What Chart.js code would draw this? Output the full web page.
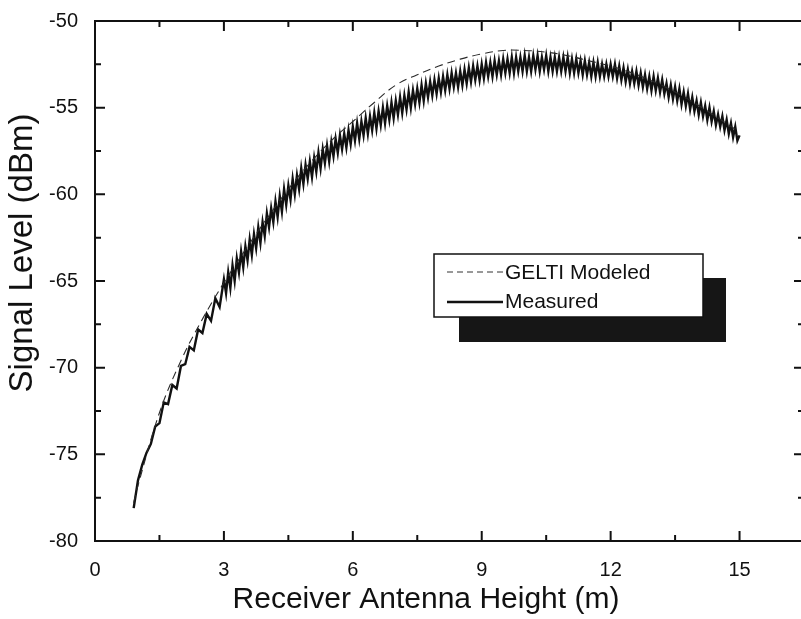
<!DOCTYPE html>
<html>
<head>
<meta charset="utf-8">
<script src="https://cdn.jsdelivr.net/npm/chart.js@4/dist/chart.umd.min.js"></script>
<style>
  html, body { margin: 0; padding: 0; background: #fff; overflow: hidden; }
  #wrap { width: 805px; height: 619px; position: relative; }
</style>
</head>
<body>
<div id="wrap"><canvas id="signal_chart"></canvas></div>
<script>
// measured trace, receiver height (m) vs level (dBm)
var measX = [0.9,1.0,1.1,1.2,1.3,1.4,1.5,1.6,1.7,1.8,1.9,2.0,2.1,2.2,2.3,2.4,2.5,2.6,2.7,2.8,2.9,
  3.0,3.05,3.1,3.15,3.2,3.25,3.3,3.35,3.4,3.45,3.5,3.55,3.6,3.65,3.7,3.75,3.8,3.85,3.9,3.95,
  4.0,4.05,4.1,4.15,4.2,4.25,4.3,4.35,4.4,4.45,4.5,4.55,4.6,4.65,4.7,4.75,4.8,4.85,4.9,4.95,
  5.0,5.05,5.1,5.15,5.2,5.25,5.3,5.35,5.4,5.45,5.5,5.55,5.6,5.65,5.7,5.75,5.8,5.85,5.9,5.95,
  6.0,6.05,6.1,6.15,6.2,6.25,6.3,6.35,6.4,6.45,6.5,6.55,6.6,6.65,6.7,6.75,6.8,6.85,6.9,6.95,
  7.0,7.05,7.1,7.15,7.2,7.25,7.3,7.35,7.4,7.45,7.5,7.55,7.6,7.65,7.7,7.75,7.8,7.85,7.9,7.95,
  8.0,8.05,8.1,8.15,8.2,8.25,8.3,8.35,8.4,8.45,8.5,8.55,8.6,8.65,8.7,8.75,8.8,8.85,8.9,8.95,
  9.0,9.05,9.1,9.15,9.2,9.25,9.3,9.35,9.4,9.45,9.5,9.55,9.6,9.65,9.7,9.75,9.8,9.85,9.9,9.95,
  10.0,10.05,10.1,10.15,10.2,10.25,10.3,10.35,10.4,10.45,10.5,10.55,10.6,10.65,10.7,10.75,10.8,10.85,10.9,10.95,
  11.0,11.05,11.1,11.15,11.2,11.25,11.3,11.35,11.4,11.45,11.5,11.55,11.6,11.65,11.7,11.75,11.8,11.85,11.9,11.95,
  12.0,12.05,12.1,12.15,12.2,12.25,12.3,12.35,12.4,12.45,12.5,12.55,12.6,12.65,12.7,12.75,12.8,12.85,12.9,12.95,
  13.0,13.05,13.1,13.15,13.2,13.25,13.3,13.35,13.4,13.45,13.5,13.55,13.6,13.65,13.7,13.75,13.8,13.85,13.9,13.95,
  14.0,14.05,14.1,14.15,14.2,14.25,14.3,14.35,14.4,14.45,14.5,14.55,14.6,14.65,14.7,14.75,14.8,14.85,14.9,14.95,
  15.0];
var measY = [-78.1,-76.5,-75.6,-74.9,-74.4,-73.4,-73.2,-72.0,-72.1,-71.0,-71.2,-69.9,-69.8,-68.8,-69.0,-67.8,-68.0,-66.9,-67.3,-66.0,-66.5,
  -64.9,-65.7,-64.5,-65.4,-64.1,-65.0,-63.7,-64.5,-63.3,-64.2,-63.0,-63.8,-62.6,-63.5,-62.3,-63.1,-61.9,-62.8,-61.6,-62.4,
  -61.1,-61.9,-60.8,-61.6,-60.4,-61.3,-60.1,-61.0,-59.7,-60.6,-59.5,-60.3,-59.1,-60.0,-58.9,-59.7,-58.5,-59.4,-58.3,-59.1,
  -58.1,-59.0,-57.9,-58.7,-57.6,-58.5,-57.4,-58.2,-57.2,-58.1,-57.0,-57.8,-56.8,-57.6,-56.6,-57.4,-56.5,-57.3,-56.3,-57.1,
  -56.1,-56.9,-55.9,-56.8,-55.8,-56.6,-55.6,-56.5,-55.5,-56.3,-55.3,-56.2,-55.2,-56.0,-55.0,-55.9,-54.9,-55.7,-54.7,-55.6,
  -54.6,-55.4,-54.4,-55.3,-54.3,-55.1,-54.1,-55.0,-54.0,-54.8,-53.9,-54.7,-53.7,-54.6,-53.6,-54.4,-53.5,-54.3,-53.4,-54.2,
  -53.3,-54.1,-53.2,-54.0,-53.1,-53.9,-53.0,-53.8,-53.0,-53.8,-52.9,-53.7,-52.8,-53.6,-52.7,-53.5,-52.6,-53.4,-52.6,-53.4,
  -52.5,-53.3,-52.4,-53.2,-52.4,-53.2,-52.3,-53.1,-52.3,-53.1,-52.2,-53.0,-52.2,-53.0,-52.1,-53.0,-52.1,-52.9,-52.1,-52.9,
  -52.0,-52.9,-52.1,-52.9,-52.0,-52.8,-52.0,-52.9,-52.1,-52.8,-52.0,-52.9,-52.1,-52.9,-52.1,-52.9,-52.1,-52.9,-52.1,-52.9,
  -52.1,-53.0,-52.2,-53.0,-52.2,-53.0,-52.3,-53.1,-52.3,-53.1,-52.4,-53.2,-52.4,-53.2,-52.4,-53.2,-52.5,-53.2,-52.5,-53.2,
  -52.5,-53.2,-52.5,-53.3,-52.6,-53.4,-52.7,-53.5,-52.8,-53.6,-52.9,-53.6,-52.9,-53.7,-53.0,-53.8,-53.1,-53.9,-53.2,-54.0,
  -53.2,-54.0,-53.3,-54.1,-53.4,-54.2,-53.6,-54.4,-53.7,-54.5,-53.8,-54.6,-53.9,-54.8,-54.1,-54.9,-54.2,-55.1,-54.4,-55.2,
  -54.6,-55.4,-54.7,-55.5,-54.9,-55.7,-55.0,-55.8,-55.2,-56.0,-55.4,-56.1,-55.5,-56.3,-55.7,-56.5,-55.9,-56.7,-56.1,-56.9,
  -56.6];

// GELTI model
var modX = [0.9,1.0,1.5,2.0,2.5,3.0,3.5,4.0,4.5,5.0,5.5,6.0,6.5,7.0,7.5,8.0,8.5,9.0,9.5,10.0,10.5,11.0,11.5,12.0,12.5,13.0,13.5,14.0,14.5,15.0];
var modY = [-77.8,-76.8,-72.6,-69.6,-67.2,-65.1,-63.2,-61.4,-59.7,-58.2,-56.9,-55.8,-54.7,-53.7,-53.1,-52.6,-52.2,-51.9,-51.7,-51.7,-51.8,-52.0,-52.3,-52.6,-53.0,-53.5,-54.1,-54.8,-55.6,-56.4];

var xTicks = [0, 3, 6, 9, 12, 15];
var yTicks = [-80, -75, -70, -65, -60, -55, -50];
var seriesNames = ["GELTI Modeled", "Measured"];

var FONT = "'Liberation Sans', Arial, sans-serif";

function pts(xs, ys) {
  return xs.map(function (x, i) { return {x: x, y: ys[i]}; });
}

// frame, inward ticks, axis titles and the shadowed legend box
var framePlugin = {
  id: "frame",
  afterDraw: function (chart) {
    var ctx = chart.ctx, a = chart.chartArea;
    var xs = chart.scales.x, ys = chart.scales.y;
    ctx.save();
    ctx.strokeStyle = "#111";
    ctx.lineWidth = 2;
    ctx.strokeRect(a.left, a.top, a.right - a.left, a.bottom - a.top);

    ctx.beginPath();
    for (var v = 0; v <= 16.5; v += 1.5) {
      var px = xs.getPixelForValue(v);
      var len = (v % 3 === 0) ? 10 : 6;
      ctx.moveTo(px, a.bottom); ctx.lineTo(px, a.bottom - len);
      ctx.moveTo(px, a.top); ctx.lineTo(px, a.top + len);
    }
    for (var w = -80; w <= -50; w += 2.5) {
      var py = ys.getPixelForValue(w);
      var l2 = (w % 5 === 0) ? 10 : 6;
      ctx.moveTo(a.left, py); ctx.lineTo(a.left + l2, py);
      ctx.moveTo(a.right, py); ctx.lineTo(a.right - l2, py);
    }
    ctx.stroke();

    // axis titles
    ctx.fillStyle = "#111";
    ctx.font = "30px " + FONT;
    ctx.textAlign = "center";
    ctx.textBaseline = "alphabetic";
    ctx.fillText("Receiver Antenna Height (m)", 426, 608);
    ctx.save();
    ctx.translate(23, 253);
    ctx.rotate(-Math.PI / 2);
    ctx.font = "33px " + FONT;
    ctx.textBaseline = "middle";
    ctx.fillText("Signal Level (dBm)", 0, 0);
    ctx.restore();

    // legend
    ctx.fillStyle = "#161616";
    ctx.fillRect(459, 278, 267, 64);
    ctx.fillStyle = "#fff";
    ctx.fillRect(434, 254, 269, 63);
    ctx.lineWidth = 1.5;
    ctx.strokeStyle = "#111";
    ctx.strokeRect(434, 254, 269, 63);

    ctx.beginPath();
    ctx.setLineDash([6, 4]);
    ctx.lineWidth = 1;
    ctx.strokeStyle = "#333";
    ctx.moveTo(447, 272); ctx.lineTo(503, 272);
    ctx.stroke();
    ctx.setLineDash([]);
    ctx.beginPath();
    ctx.lineWidth = 2.5;
    ctx.strokeStyle = "#111";
    ctx.moveTo(447, 302); ctx.lineTo(503, 302);
    ctx.stroke();

    ctx.fillStyle = "#111";
    ctx.font = "21px " + FONT;
    ctx.textAlign = "left";
    ctx.textBaseline = "middle";
    ctx.fillText(seriesNames[0], 505, 273);
    ctx.fillText(seriesNames[1], 505, 302);
    ctx.restore();
  }
};

new Chart("signal_chart", {
  type: "line",
  data: {
    datasets: [{
      label: seriesNames[0],
      data: pts(modX, modY),
      borderColor: "#2a2a2a",
      borderWidth: 1.1,
      borderDash: [8, 5],
      pointRadius: 0,
      fill: false,
      tension: 0.4
    }, {
      label: seriesNames[1],
      data: pts(measX, measY),
      borderColor: "#111",
      borderWidth: 2.4,
      pointRadius: 0,
      fill: false,
      tension: 0
    }]
  },
  options: {
    responsive: true,
    maintainAspectRatio: false,
    animation: false,
    events: [],
    layout: {padding: {top: 16, right: 1, left: 0, bottom: 0}},
    plugins: {legend: {display: false}, tooltip: {enabled: false}},
    scales: {
      x: {
        type: "linear",
        min: 0,
        max: 16.5,
        grid: {display: false},
        border: {display: false},
        afterFit: function (s) { s.height = 78; },
        afterBuildTicks: function (s) { s.ticks = xTicks.map(function (v) { return {value: v}; }); },
        ticks: {color: "#111", padding: 9, maxRotation: 0, font: {family: FONT, size: 20}}
      },
      y: {
        min: -80,
        max: -50,
        grid: {display: false},
        border: {display: false},
        afterFit: function (s) { s.width = 95; },
        afterBuildTicks: function (s) { s.ticks = yTicks.map(function (v) { return {value: v}; }); },
        ticks: {color: "#111", padding: 9, font: {family: FONT, size: 20}}
      }
    }
  },
  plugins: [framePlugin]
});
</script>
</body>
</html>
